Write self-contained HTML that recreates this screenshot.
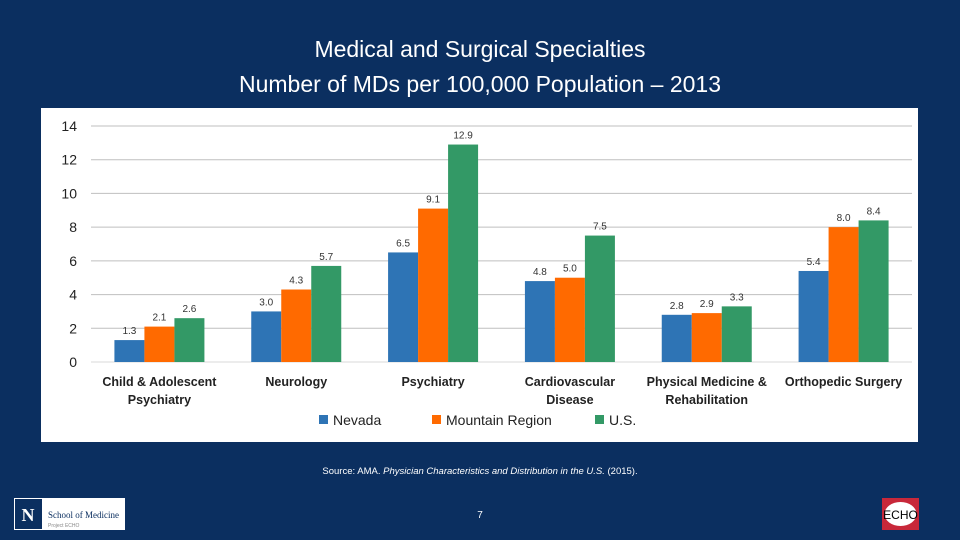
<!DOCTYPE html>
<html><head><meta charset="utf-8"><style>
body{margin:0;width:960px;height:540px;background:#0b2f60;font-family:"Liberation Sans",sans-serif;overflow:hidden;position:relative}
.t{position:absolute;left:0;width:960px;text-align:center;color:#fff;font-size:23px}
</style></head><body>
<div class="t" style="top:36px">Medical and Surgical Specialties</div>
<div class="t" style="top:71px">Number of MDs per 100,000 Population – 2013</div>
<svg width="960" height="540" style="position:absolute;left:0;top:0" id="svg">
<rect x="41" y="108" width="877" height="334" fill="#fff"/>
<g id="g"></g>
<text x="480" y="474" fill="#fff" font-size="9.5" text-anchor="middle">Source: AMA. <tspan font-style="italic">Physician Characteristics and Distribution in the U.S.</tspan> (2015).</text>
<text x="480" y="518" fill="#fff" font-size="10" text-anchor="middle">7</text>
<g>
<rect x="14" y="498" width="111" height="32" fill="#fff"/><rect x="15" y="499" width="27" height="30" fill="#0b2f60"/>
<text x="28" y="521" fill="#fff" font-size="18" font-family="Liberation Serif" text-anchor="middle" font-weight="bold">N</text>
<text x="48" y="518" fill="#0b2f60" font-size="9" font-family="Liberation Serif">School of Medicine</text>
<text x="48" y="527" fill="#888" font-size="5">Project ECHO</text></g>
<g>
<rect x="882" y="498" width="37" height="32" fill="#c8283a"/><ellipse cx="900.5" cy="514" rx="16" ry="12" fill="#fff"/>
<text x="900.5" y="519" font-size="12" text-anchor="middle" fill="#000">ECHO</text></g>
</svg>
<script>
const categories=[["Child & Adolescent","Psychiatry"],["Neurology"],["Psychiatry"],["Cardiovascular","Disease"],["Physical Medicine &","Rehabilitation"],["Orthopedic Surgery"]];
const nevada=[1.3,3.0,6.5,4.8,2.8,5.4];
const mountain=[2.1,4.3,9.1,5.0,2.9,8.0];
const us=[2.6,5.7,12.9,7.5,3.3,8.4];
const seriesNames=["Nevada","Mountain Region","U.S."];
const yTicks=[0,2,4,6,8,10,12,14];
const colors=["#2e74b5","#ff6a00","#339966"];
const NS="http://www.w3.org/2000/svg",g=document.getElementById('g');
const x0=91,x1=912,y0=362,y1=126,yMax=14;
const y=v=>y0-(v/yMax)*(y0-y1);
const cw=(x1-x0)/categories.length,bw=30;
function el(t,a,txt){const e=document.createElementNS(NS,t);for(const k in a)e.setAttribute(k,a[k]);if(txt!=null)e.textContent=txt;g.appendChild(e);return e;}
yTicks.forEach(t=>{
 const l=el('line',{x1:x0,x2:x1,y1:y(t),y2:y(t),stroke:t?'#bfbfbf':'#d9d9d9','stroke-width':1});
 
 
 const tx=el('text',{x:77,y:y(t)+5,'font-size':14,'text-anchor':'end',fill:'#222'},t);
 
 
});
const series=[nevada,mountain,us];
categories.forEach((c,i)=>{
 const cx=x0+cw*(i+0.5);
 series.forEach((s,j)=>{
  const bx=cx-1.5*bw+j*bw;
  const r=el('rect',{x:bx,y:y(s[i]),width:bw,height:y0-y(s[i]),fill:colors[j]});
  
  
  const lb=el('text',{x:bx+bw/2,y:y(s[i])-6,'font-size':10,'text-anchor':'middle',fill:'#333'},s[i].toFixed(1));
  
  
 });
 c.forEach((ln,k)=>{
  const t=el('text',{x:cx,y:386+k*18,'font-size':12.5,'font-weight':'bold','text-anchor':'middle',fill:'#222'},ln);
  
  
 });
});
const lx=[319,432,595];
seriesNames.forEach((n,j)=>{
 const r=el('rect',{x:lx[j],y:415,width:9,height:9,fill:colors[j]});
 
 
 const t=el('text',{x:lx[j]+14,y:425,'font-size':14,fill:'#222'},n);
 
 
});
</script>
</body></html>
